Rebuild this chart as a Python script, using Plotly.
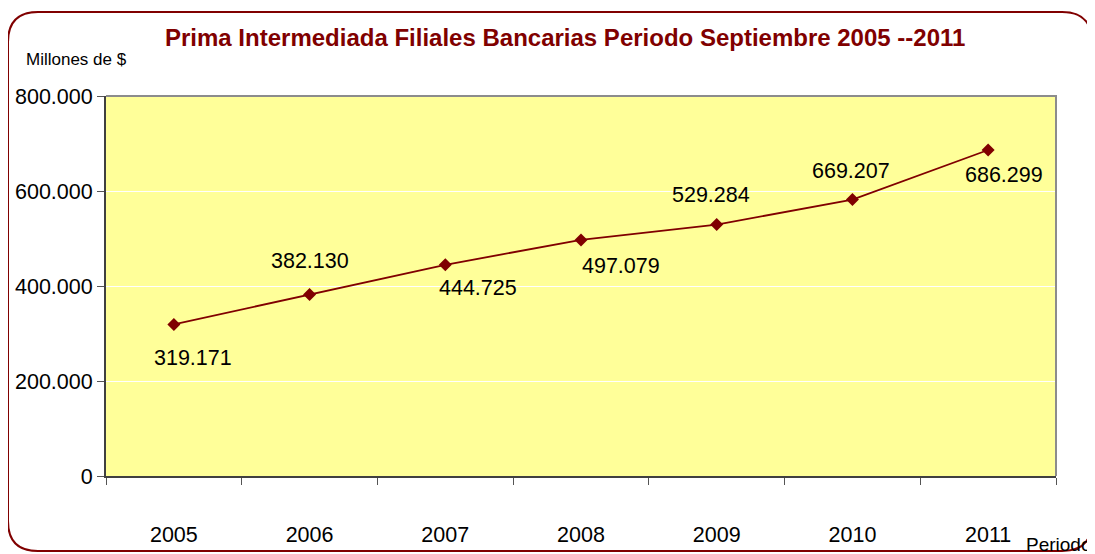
import plotly.graph_objects as go

# data
years = ["2005", "2006", "2007", "2008", "2009", "2010", "2011"]
values = [319171, 382130, 444725, 497079, 529284, 582000, 686299]
labels = ["319.171", "382.130", "444.725", "497.079", "529.284", "669.207", "686.299"]
y_ticks = [0, 200000, 400000, 600000, 800000]
y_ticktext = ["0", "200.000", "400.000", "600.000", "800.000"]

# label offsets (px) as placed in the original
offsets = [(19, -34), (0, 33), (33, -23), (40, -26), (-6, 30), (-1, 29), (16, -25)]

maroon = "#800000"
font = "Liberation Sans, Arial, sans-serif"

# page body has an 8px margin, so work in figure coords = screen - 8
OFF = 8
W, H = 1095 - OFF, 554 - OFF
L, T = 106 - OFF, 96 - OFF
R = W - (1056 - OFF)
B = H - (476 - OFF)
pw, ph = W - L - R, H - T - B


def px(x):
    return (x - OFF - L) / pw


def py(y):
    return (H - B - (y - OFF)) / ph


fig = go.Figure()
fig.add_trace(go.Scatter(
    x=years, y=values, mode="lines+markers",
    line=dict(color=maroon, width=1.8),
    marker=dict(symbol="diamond", size=10, color=maroon),
    hoverinfo="skip", showlegend=False,
))

for i, (v, t, (dx, dy)) in enumerate(zip(values, labels, offsets)):
    fig.add_annotation(x=i, y=v, xref="x", yref="y", text=t, showarrow=False,
                       xshift=dx, yshift=dy, xanchor="center", yanchor="middle",
                       font=dict(family=font, size=21.5, color="#000000"))

# rounded frame around the whole chart (screen px)
x0, x1, y0, y1, r = 8, 1092, 12, 551, 30
path = (f"M {px(x0 + r)},{py(y0)} L {px(x1 - r)},{py(y0)} "
        f"Q {px(x1)},{py(y0)} {px(x1)},{py(y0 + r)} "
        f"L {px(x1)},{py(y1 - r)} Q {px(x1)},{py(y1)} {px(x1 - r)},{py(y1)} "
        f"L {px(x0 + r)},{py(y1)} Q {px(x0)},{py(y1)} {px(x0)},{py(y1 - r)} "
        f"L {px(x0)},{py(y0 + r)} Q {px(x0)},{py(y0)} {px(x0 + r)},{py(y0)} Z")
fig.add_shape(type="path", path=path, xref="paper", yref="paper",
              line=dict(color=maroon, width=2), layer="below")

# lighter top / right border of the plot area
fig.add_shape(type="path", path="M 0,1 L 1,1 L 1,0", xref="paper", yref="paper",
              line=dict(color="#8c8c8c", width=2))

fig.add_annotation(text="<b>Prima Intermediada Filiales Bancarias Periodo Septiembre 2005 --2011</b>",
                   xref="paper", yref="paper", x=px(565), y=py(38),
                   xanchor="center", yanchor="middle", showarrow=False,
                   font=dict(family=font, size=24, color=maroon))
fig.add_annotation(text="Millones de $", xref="paper", yref="paper",
                   x=px(24), y=py(59), xanchor="left", yanchor="middle", showarrow=False,
                   font=dict(family=font, size=17, color="#000000"))
fig.add_annotation(text="Periodo", xref="paper", yref="paper",
                   x=px(1024), y=py(544), xanchor="left", yanchor="middle", showarrow=False,
                   font=dict(family=font, size=19, color="#000000"))

fig.update_layout(
    width=W, height=H,
    margin=dict(l=L, r=R, t=T, b=B, autoexpand=False),
    paper_bgcolor="white", plot_bgcolor="#FFFF99",
    font=dict(family=font, size=21.5, color="#000000"),
    xaxis=dict(type="category", range=[-0.5, 6.5], showgrid=False, automargin=False,
               showline=True, linecolor="#404040", linewidth=2,
               ticks="outside", tickson="boundaries", ticklen=7, tickcolor="#555555",
               ticklabelstandoff=38),
    yaxis=dict(range=[0, 800000], tickvals=y_ticks, ticktext=y_ticktext, automargin=False,
               showgrid=True, gridcolor="white", gridwidth=1, zeroline=False,
               showline=True, linecolor="#404040", linewidth=2,
               ticks="outside", ticklen=7, tickcolor="#555555"),
)

fig.write_html("out.html")
